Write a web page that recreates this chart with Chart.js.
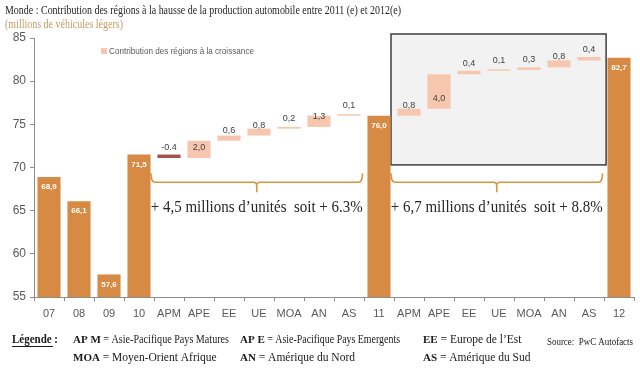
<!DOCTYPE html>
<html>
<head>
<meta charset="utf-8">
<script src="https://cdn.jsdelivr.net/npm/chart.js@4.4.1/dist/chart.umd.min.js"></script>
<style>
  html, body { margin: 0; padding: 0; background: #fff; }
  #wrap { width: 640px; height: 368px; position: relative; }
</style>
</head>
<body>
<div id="wrap"><canvas id="chart"></canvas></div>
<script>
// --- data ---
const categories = ['07', '08', '09', '10', 'APM', 'APE', 'EE', 'UE', 'MOA', 'AN', 'AS', '11',
                    'APM', 'APE', 'EE', 'UE', 'MOA', 'AN', 'AS', '12'];
const totals = [68.9, 66.1, 57.6, 71.5, null, null, null, null, null, null, null, 76.0,
                null, null, null, null, null, null, null, 82.7];
const contributions = [null, null, null, null, -0.4, 2.0, 0.6, 0.8, 0.2, 1.3, 0.1, null,
                       0.8, 4.0, 0.4, 0.1, 0.3, 0.8, 0.4, null];
const yTicks = [55, 60, 65, 70, 75, 80, 85];
const groupNotes = ['+ 4,5 millions d\u2019unités  soit + 6.3%', '+ 6,7 millions d\u2019unités  soit + 8.8%'];
const legendAbbr = ['AP M', 'AP E', 'EE', 'MOA', 'AN', 'AS'];
const legendText = ['Asie-Pacifique Pays Matures', 'Asie-Pacifique Pays Emergents', 'Europe de l\u2019Est',
                    'Moyen-Orient Afrique', 'Amérique du Nord', 'Amérique du Sud'];

const ORANGE = '#D68A43';
const SALMON = '#F6C7AE';
const NEG = '#A4504C';

// floating bars for the contributions, starting from the last total
const floats = [];
let run = null;
for (let i = 0; i < categories.length; i++) {
    if (totals[i] != null) run = totals[i];
    if (contributions[i] != null) {
        floats.push([run, run + contributions[i]]);
        run += contributions[i];
    } else {
        floats.push(null);
    }
}

function fmt(v) {
    return v < 0 ? '-' + Math.abs(v).toFixed(1) : v.toFixed(1).replace('.', ',');
}

function squeezeText(ctx, text, x, y, maxW) {
    const w = ctx.measureText(text).width;
    const sx = w > maxW ? maxW / w : 1;
    ctx.save();
    ctx.translate(x, y);
    ctx.scale(sx, 1);
    ctx.fillText(text, 0, 0);
    ctx.restore();
    return w * sx;
}

function drawBrace(ctx, x1, x2, y) {
    const mid = (x1 + x2) / 2;
    ctx.save();
    ctx.strokeStyle = '#D9953F';
    ctx.lineWidth = 1.6;
    ctx.beginPath();
    ctx.moveTo(x1, y - 9);
    ctx.quadraticCurveTo(x1, y, x1 + 4, y);
    ctx.lineTo(mid - 3, y);
    ctx.quadraticCurveTo(mid, y, mid, y + 4);
    ctx.lineTo(mid, y + 10);
    ctx.moveTo(mid, y + 4);
    ctx.quadraticCurveTo(mid, y, mid + 3, y);
    ctx.lineTo(x2 - 4, y);
    ctx.quadraticCurveTo(x2, y, x2, y - 9);
    ctx.stroke();
    ctx.restore();
}

const decorPlugin = {
    id: 'decor',
    beforeDatasetsDraw(chart) {
        const ctx = chart.ctx;
        const x = chart.scales.x, y = chart.scales.y;
        const step = x.getPixelForValue(1) - x.getPixelForValue(0);
        // grey box behind the 2012 contributions
        const left = x.getPixelForValue(11) + step * 0.4;
        const right = x.getPixelForValue(19) - step * 0.43;
        const top = chart.chartArea.top - 4;
        const bottom = y.getPixelForValue(70.3);
        ctx.save();
        ctx.fillStyle = '#F2F2F2';
        ctx.fillRect(left, top, right - left, bottom - top);
        ctx.strokeStyle = '#3F3F3F';
        ctx.lineWidth = 1.5;
        ctx.strokeRect(left, top, right - left, bottom - top);
        ctx.restore();
    },
    afterDraw(chart) {
        const ctx = chart.ctx;
        const x = chart.scales.x, y = chart.scales.y;
        const step = x.getPixelForValue(1) - x.getPixelForValue(0);
        ctx.save();

        // title and subtitle
        ctx.textBaseline = 'middle';
        ctx.textAlign = 'left';
        ctx.fillStyle = '#262626';
        ctx.font = '13.5px "Liberation Serif", serif';
        squeezeText(ctx, 'Monde : Contribution des régions à la hausse de la production automobile entre 2011 (e) et 2012(e)', 5, 10, 396);
        ctx.fillStyle = '#C99A63';
        squeezeText(ctx, '(millions de véhicules légers)', 5, 24, 118);

        // series legend
        ctx.fillStyle = SALMON;
        ctx.fillRect(101, 48, 6, 6);
        ctx.fillStyle = '#595959';
        ctx.font = '9px "Liberation Sans", sans-serif';
        squeezeText(ctx, 'Contribution des régions à la croissance', 109, 51.5, 145);

        // value labels
        ctx.textAlign = 'center';
        categories.forEach((c, i) => {
            const px = x.getPixelForValue(i);
            if (totals[i] != null) {
                ctx.fillStyle = '#FFFFFF';
                ctx.font = 'bold 8px "Liberation Sans", sans-serif';
                ctx.fillText(fmt(totals[i]), px, y.getPixelForValue(totals[i]) + 10);
            }
            if (floats[i]) {
                const low = Math.min(floats[i][0], floats[i][1]);
                ctx.fillStyle = '#404040';
                ctx.font = '9px "Liberation Sans", sans-serif';
                ctx.fillText(fmt(contributions[i]), px, y.getPixelForValue(low) - 10.5);
            }
        });

        // braces and group notes
        const braceY = y.getPixelForValue(68.3);
        const groups = [[3, 11], [11, 19]];
        groups.forEach((g, k) => {
            const x1 = x.getPixelForValue(g[0]) + step * 0.4;
            const x2 = x.getPixelForValue(g[1]) - step * 0.55;
            drawBrace(ctx, x1, x2, braceY);
            ctx.fillStyle = '#262626';
            ctx.font = '16px "Liberation Serif", serif';
            ctx.textAlign = 'left';
            const w = Math.min(ctx.measureText(groupNotes[k]).width, 212);
            squeezeText(ctx, groupNotes[k], (x1 + x2) / 2 - w / 2, braceY + 26, 212);
        });

        // bottom legend
        ctx.textAlign = 'left';
        ctx.fillStyle = '#1a1a1a';
        ctx.font = 'bold 12px "Liberation Serif", serif';
        const lw = squeezeText(ctx, 'Légende :', 12, 340, 46);
        ctx.fillRect(12, 346, lw - 5, 1);
        const colX = [73, 240, 423];
        const rowY = [340, 358];
        legendAbbr.forEach((a, i) => {
            const cx = colX[i % 3], cy = rowY[Math.floor(i / 3)];
            ctx.font = 'bold 11px "Liberation Serif", serif';
            let w = squeezeText(ctx, a, cx, cy, 60);
            ctx.font = '11.5px "Liberation Serif", serif';
            squeezeText(ctx, ' = ' + legendText[i], cx + w, cy, 156 - w + (i === 1 ? 4 : 0));
        });
        ctx.font = '10px "Liberation Serif", serif';
        squeezeText(ctx, 'Source:  PwC Autofacts', 547, 342, 86);

        ctx.restore();
    }
};

const ctx = document.getElementById('chart').getContext('2d');
new Chart(ctx, {
    type: 'bar',
    data: {
        labels: categories,
        datasets: [{
            label: 'Production',
            data: totals,
            backgroundColor: ORANGE,
            grouped: false,
            barPercentage: 0.77,
            categoryPercentage: 1
        }, {
            label: 'Contribution des régions à la croissance',
            data: floats,
            backgroundColor: contributions.map(v => v != null && v < 0 ? NEG : SALMON),
            grouped: false,
            barPercentage: 0.77,
            categoryPercentage: 1,
            minBarLength: 1.5
        }]
    },
    options: {
        responsive: true,
        maintainAspectRatio: false,
        animation: false,
        layout: { padding: { top: 38, right: 6, left: 0, bottom: 0 } },
        plugins: {
            legend: { display: false },
            tooltip: { enabled: false }
        },
        scales: {
            x: {
                afterFit: s => { s.height = 71; },
                grid: { drawOnChartArea: false, color: '#8C8C8C', tickLength: 4, offset: true },
                border: { color: '#8C8C8C' },
                ticks: {
                    autoSkip: false,
                    maxRotation: 0,
                    color: '#595959',
                    padding: 6,
                    font: { family: '"Liberation Sans", sans-serif', size: 11 }
                }
            },
            y: {
                min: 55,
                max: 85,
                afterFit: s => { s.width = 34; },
                afterBuildTicks: s => { s.ticks = yTicks.map(v => ({ value: v })); },
                grid: { drawOnChartArea: false, color: '#8C8C8C', tickLength: 4 },
                border: { color: '#8C8C8C' },
                ticks: {
                    color: '#595959',
                    padding: 4,
                    font: { family: '"Liberation Sans", sans-serif', size: 12 }
                }
            }
        }
    },
    plugins: [decorPlugin]
});
</script>
</body>
</html>
